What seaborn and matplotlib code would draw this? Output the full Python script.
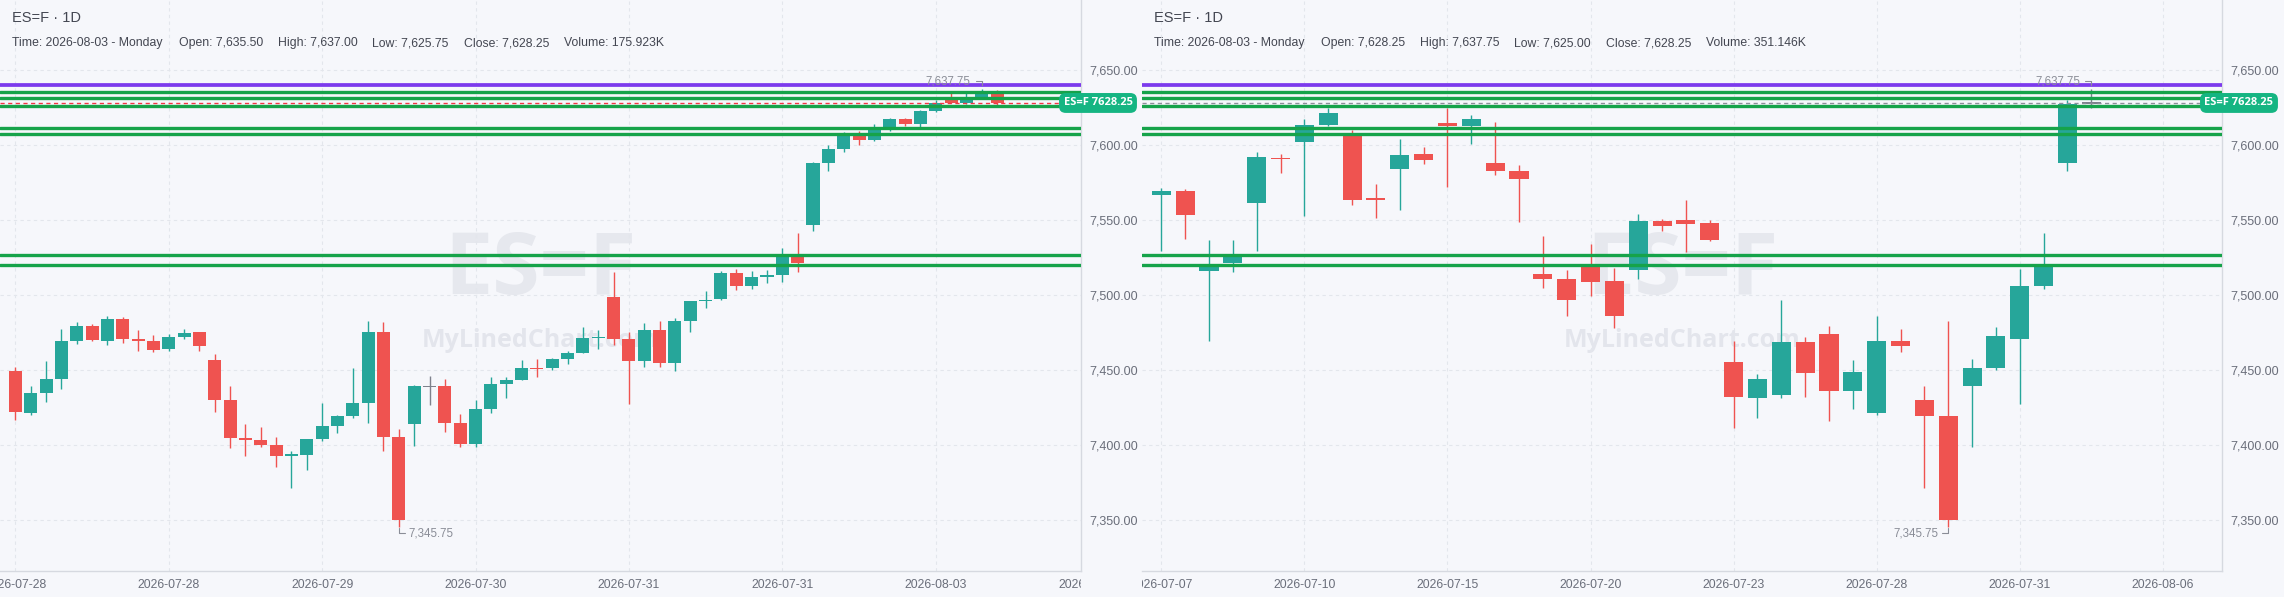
import numpy as np
import pandas as pd
import matplotlib
matplotlib.use("Agg")
import matplotlib.pyplot as plt
import matplotlib.transforms as mtransforms
import seaborn as sns

# ---- datos: panel izquierdo (velas intradía) ----
left_open = [7449.25, 7421.5, 7435.0, 7444.25, 7469.5, 7479.25, 7469.25, 7484.0, 7470.75, 7469.25,
             7464.0, 7472.0, 7475.25, 7456.75, 7430.0, 7405.0, 7403.25, 7400.0, 7393.0, 7393.75,
             7404.25, 7413.0, 7419.5, 7428.25, 7475.25, 7405.25, 7414.25, 7439.25, 7439.25, 7414.75,
             7401.0, 7424.25, 7441.0, 7443.5, 7451.5, 7451.5, 7457.5, 7461.5, 7471.25, 7498.75,
             7470.75, 7456.25, 7476.75, 7455.0, 7483.0, 7496.25, 7497.25, 7514.75, 7506.5, 7512.5,
             7513.25, 7525.75, 7547.0, 7588.5, 7597.75, 7607.0, 7603.75, 7610.75, 7617.5, 7614.5,
             7623.0, 7632.0, 7628.5, 7632.0, 7635.5]
left_high = [7452.0, 7439.25, 7456.0, 7477.25, 7482.0, 7480.75, 7486.0, 7485.25, 7476.75, 7473.25,
             7474.0, 7477.25, 7475.5, 7460.75, 7439.25, 7414.0, 7412.0, 7405.25, 7396.0, 7404.0,
             7428.0, 7420.0, 7451.25, 7482.75, 7482.0, 7410.75, 7440.0, 7446.0, 7444.0, 7420.75,
             7430.0, 7445.25, 7445.25, 7456.75, 7457.25, 7458.0, 7462.75, 7478.75, 7476.75, 7515.25,
             7475.25, 7481.25, 7482.75, 7484.75, 7496.0, 7502.75, 7516.0, 7517.5, 7516.25, 7517.0,
             7531.5, 7541.5, 7589.0, 7600.25, 7609.0, 7609.5, 7614.25, 7618.25, 7618.25, 7623.5,
             7630.25, 7634.75, 7634.75, 7637.75, 7637.0]
left_low = [7417.0, 7420.25, 7429.0, 7437.5, 7467.5, 7469.25, 7466.75, 7468.0, 7462.75, 7462.0,
            7462.75, 7470.75, 7462.75, 7422.0, 7398.25, 7393.0, 7399.0, 7385.5, 7371.5, 7383.5,
            7403.0, 7408.25, 7418.25, 7415.0, 7396.25, 7345.75, 7399.5, 7427.0, 7409.0, 7399.0,
            7399.0, 7421.5, 7431.5, 7443.5, 7445.5, 7450.25, 7454.25, 7461.5, 7464.25, 7466.75,
            7427.5, 7452.25, 7452.25, 7449.5, 7475.5, 7491.5, 7496.75, 7503.5, 7504.5, 7508.5,
            7509.0, 7515.75, 7543.0, 7583.0, 7595.75, 7600.5, 7603.0, 7609.5, 7613.0, 7612.5,
            7622.5, 7628.0, 7627.75, 7630.75, 7625.75]
left_close = [7422.25, 7434.75, 7444.0, 7469.25, 7479.25, 7470.0, 7484.0, 7470.75, 7469.5, 7463.25,
              7472.0, 7474.75, 7466.0, 7430.0, 7405.0, 7403.5, 7400.25, 7393.0, 7394.0, 7404.0,
              7412.75, 7419.25, 7428.0, 7475.25, 7405.5, 7350.25, 7439.25, 7439.25, 7415.0, 7401.0,
              7424.0, 7440.75, 7443.25, 7451.25, 7451.0, 7457.25, 7461.25, 7471.25, 7472.25, 7470.75,
              7456.25, 7476.75, 7455.0, 7482.75, 7496.0, 7497.0, 7514.75, 7506.25, 7512.25, 7513.25,
              7525.75, 7521.75, 7588.25, 7597.5, 7607.0, 7603.75, 7610.75, 7617.5, 7614.5, 7622.75,
              7628.25, 7628.5, 7632.0, 7635.5, 7628.25]
left_dates = ["2026-07-28", "2026-07-28", "2026-07-29", "2026-07-30", "2026-07-31",
              "2026-07-31", "2026-08-03", "2026-08-04"]
left_info = [("Time", "2026-08-03 - Monday"), ("Open", "7,635.50"), ("High", "7,637.00"),
             ("Low", "7,625.75"), ("Close", "7,628.25"), ("Volume", "175.923K")]

# ---- datos: panel derecho (velas diarias) ----
right_open = [7567.0, 7569.5, 7516.0, 7521.5, 7561.5, 7591.5, 7602.25, 7613.5, 7608.0, 7564.5,
              7584.25, 7594.25, 7615.0, 7613.0, 7588.25, 7583.0, 7514.25, 7511.0, 7520.25, 7509.5,
              7517.0, 7549.5, 7550.25, 7548.25, 7455.5, 7431.75, 7433.75, 7469.0, 7474.25, 7436.5,
              7421.75, 7469.25, 7430.0, 7419.25, 7439.5, 7451.5, 7471.0, 7506.25, 7588.25, 7628.25]
right_high = [7571.5, 7571.0, 7537.0, 7537.0, 7595.5, 7594.25, 7617.5, 7625.0, 7610.25, 7574.25,
              7604.25, 7599.0, 7625.0, 7620.25, 7615.5, 7587.0, 7539.5, 7517.0, 7534.25, 7518.25,
              7554.25, 7551.0, 7563.5, 7550.25, 7469.5, 7447.5, 7497.0, 7472.25, 7479.5, 7457.0,
              7486.25, 7477.25, 7439.25, 7482.75, 7457.25, 7478.75, 7517.25, 7541.25, 7630.0, 7637.75]
right_low = [7529.5, 7537.5, 7469.75, 7515.5, 7529.5, 7581.5, 7553.0, 7613.0, 7560.25, 7551.5,
             7557.0, 7587.5, 7572.25, 7601.0, 7580.25, 7549.0, 7505.0, 7486.5, 7499.75, 7478.5,
             7511.0, 7543.0, 7529.0, 7536.25, 7411.75, 7418.5, 7431.75, 7432.5, 7416.5, 7424.5,
             7420.5, 7462.25, 7371.5, 7345.75, 7399.0, 7450.25, 7427.5, 7504.25, 7583.0, 7625.0]
right_close = [7569.5, 7553.5, 7520.0, 7525.75, 7592.25, 7591.0, 7613.5, 7621.5, 7563.5, 7564.0,
               7593.5, 7590.25, 7613.0, 7617.5, 7583.0, 7577.5, 7511.0, 7497.0, 7509.0, 7486.5,
               7549.5, 7546.5, 7547.75, 7537.0, 7432.5, 7444.25, 7469.0, 7448.5, 7436.5, 7449.0,
               7469.5, 7466.25, 7419.5, 7350.25, 7451.25, 7472.75, 7506.0, 7521.0, 7627.75, 7628.25]
right_dates = ["2026-07-07", "2026-07-10", "2026-07-15", "2026-07-20", "2026-07-23",
               "2026-07-28", "2026-07-31", "2026-08-06"]
right_info = [("Time", "2026-08-03 - Monday"), ("Open", "7,628.25"), ("High", "7,637.75"),
              ("Low", "7,625.00"), ("Close", "7,628.25"), ("Volume", "351.146K")]

# niveles horizontales dibujados en ambos gráficos
nivel_violeta = 7640.25
niveles_verdes = [7635.25, 7631.5, 7626.25, 7611.25, 7607.75, 7527.0, 7520.25]
precio_actual = 7628.25
simbolo = "ES=F"
y_ticks = [7350, 7400, 7450, 7500, 7550, 7600, 7650]

# ---- estilo ----
BG = "#F6F7FB"
UP, DOWN, FLAT = "#26A69A", "#EF5350", "#7E818C"
TXT = "#434651"
TICK = "#6A6E7A"
sns.set_theme(style="white", rc={"axes.facecolor": BG, "figure.facecolor": BG})
plt.rcParams["font.family"] = ["Liberation Sans", "DejaVu Sans"]

W, H = 2284, 597
fig = plt.figure(figsize=(W / 100, H / 100), dpi=100)


def panel(x0, width, o, h, l, c, dates, tick_step, xlim, body_w, info,
          price_color, low_side):
    ax = fig.add_axes([x0 / W, 26 / H, width / W, 571 / H])
    df = pd.DataFrame({"open": o, "high": h, "low": l, "close": c})
    df["x"] = np.arange(len(df))
    colores = np.where(df.close > df.open, UP, np.where(df.close < df.open, DOWN, FLAT))
    alto = np.maximum((df.close - df.open).abs(), 0.8)
    base = (df.open + df.close) / 2 - alto / 2

    ax.vlines(df.x, df.low, df.high, colors=colores, lw=1.0, zorder=2)
    ax.bar(df.x, alto, body_w, bottom=base, color=colores, linewidth=0, zorder=2)

    # niveles
    ax.axhline(nivel_violeta, color="#7C3AED", lw=2.7, zorder=4)
    for v in niveles_verdes:
        ax.axhline(v, color="#16A34A", lw=2.4, zorder=4)
    ax.axhline(precio_actual, color=price_color, lw=1.0, ls=(0, (3, 2.5)), zorder=4)

    ax.set_xlim(*xlim)
    ax.set_ylim(7316.2, 7696.9)
    ax.set_yticks(y_ticks)
    ax.set_yticklabels([f"{v:,.2f}" for v in y_ticks])
    ax.yaxis.tick_right()
    ax.tick_params(axis="y", length=0, pad=6, labelsize=9, labelcolor=TICK)
    posiciones = [i * tick_step for i in range(len(dates))]
    ax.set_xticks([p for p in posiciones if p <= xlim[1]])
    ax.set_xticklabels([])
    ax.tick_params(axis="x", length=2.5, color="#D6D9E0", width=0.8)
    ax.grid(True, color="#E3E6EC", lw=0.8, ls=(0, (3, 3)))
    ax.set_axisbelow(True)
    for s in ["top", "left"]:
        ax.spines[s].set_visible(False)
    for s in ["bottom", "right"]:
        ax.spines[s].set_color("#D6D9E0")
        ax.spines[s].set_linewidth(1.0)

    # fechas recortadas al ancho del gráfico (como en la captura)
    clip = mtransforms.TransformedBbox(mtransforms.Bbox([[0, -1], [1, 2]]), ax.transAxes)
    blend = mtransforms.blended_transform_factory(ax.transData, ax.transAxes)
    for p, d in zip(posiciones, dates):
        t = ax.text(p, -14 / 571, d, transform=blend, ha="center", va="center",
                    fontsize=8.8, color=TICK)
        t.set_clip_path(None)
        t.set_clip_box(clip)
        t.set_clip_on(True)

    # marcas de agua
    ax.text(0.5, 0.525, simbolo, transform=ax.transAxes, ha="center", va="center",
            fontsize=62, fontweight="bold", color="#E6E8EE", family="Open Sans", zorder=0.5)
    ax.text(0.5, 0.403, "MyLinedChart.com", transform=ax.transAxes, ha="center",
            va="center", fontsize=18, fontweight="bold", color="#E3E5EC",
            family="Open Sans", zorder=0.5)

    # etiqueta de precio
    ax.text(1.0 + 17 / width, precio_actual, f"{simbolo} {precio_actual:.2f}",
            transform=mtransforms.blended_transform_factory(ax.transAxes, ax.transData),
            ha="center", va="center", fontsize=8, fontweight="bold", color="white",
            family="Open Sans", clip_on=False, zorder=6,
            bbox=dict(boxstyle="round,pad=0.4,rounding_size=0.6", fc="#15B582", ec="none"))

    # máximo y mínimo visibles
    step = (xlim[1] - xlim[0]) / width  # unidades x por pixel
    imax = int(df.high.idxmax())
    imin = int(df.low.idxmin())
    vmax, vmin = df.high.max(), df.low.min()
    gray = "#8A8D97"
    ax.plot([imax - 6 * step, imax, imax], [vmax + 5, vmax + 5, vmax + 2.5],
            color=gray, lw=0.8, zorder=5)
    ax.text(imax - 11 * step, vmax + 5, f"{vmax:,.2f}", ha="right", va="center",
            fontsize=8.3, color=gray, zorder=5)
    sign = 1 if low_side == "right" else -1
    ax.plot([imin, imin, imin + sign * 6 * step], [vmin - 1, vmin - 4.5, vmin - 4.5],
            color=gray, lw=0.8, zorder=5)
    ax.text(imin + sign * 10 * step, vmin - 4.5, f"{vmin:,.2f}",
            ha="left" if sign > 0 else "right", va="center",
            fontsize=8.3, color=gray, zorder=5)

    # encabezado
    fig.text((x0 + 12) / W, 1 - 18 / H, f"{simbolo} · 1D", fontsize=10.5, color=TXT, va="center")
    offs = [12, 178.7, 277.8, 371.6, 463.8, 563.7]
    for dx, (k, v) in zip(offs, info):
        fig.text((x0 + dx) / W, 1 - 43 / H, f"{k}: {v}", fontsize=8.8, color=TXT, va="center")
    return ax


panel(0, 1081, left_open, left_high, left_low, left_close, left_dates, 10,
      (-1.0, 69.47), 0.85, left_info, "#F23645", "right")
panel(1142, 1080, right_open, right_high, right_low, right_close, right_dates, 6,
      (-0.81, 44.48), 0.8, right_info, "#8C8F99", "left")

fig.savefig("out.png", dpi=100, facecolor=BG)
